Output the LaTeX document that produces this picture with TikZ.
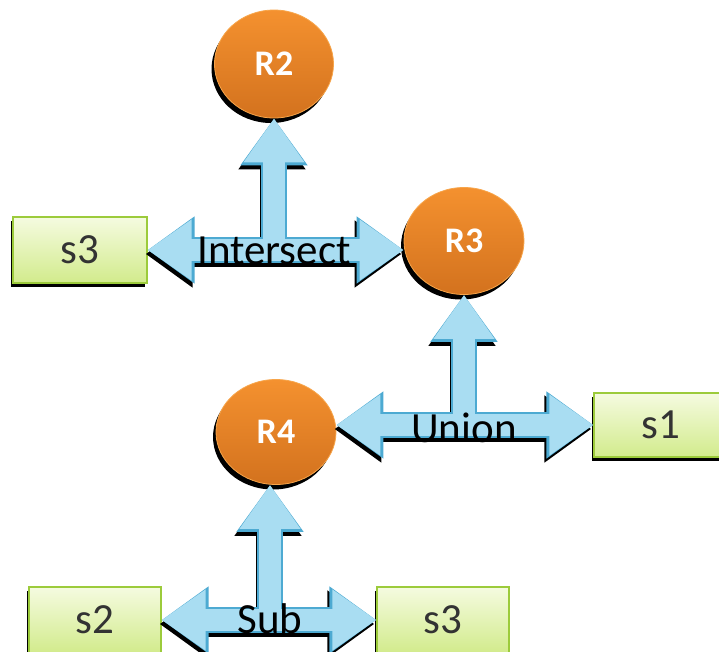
\documentclass[tikz,border=0pt]{standalone}
\usepackage{fontspec}
\setmainfont{Carlito}
\usetikzlibrary{arrows.meta,shapes.geometric,shadows,calc}

\definecolor{orangetop}{HTML}{F4912F}
\definecolor{orangebot}{HTML}{D3721E}
\definecolor{orangerim}{HTML}{F7A54A}
\definecolor{greentop}{HTML}{F5FBE0}
\definecolor{greenbot}{HTML}{D2EB8C}
\definecolor{greenrim}{HTML}{9CCB3B}
\definecolor{linkfill}{HTML}{A9DDF2}
\definecolor{linkedge}{HTML}{4DAAD2}

\tikzset{
  relnode/.style={ellipse, minimum width=120pt, minimum height=107pt, inner sep=0pt,
    top color=orangetop, bottom color=orangebot, draw=orangerim, line width=0.8pt,
    text=white, font=\fontsize{36}{36}\selectfont\bfseries,
    drop shadow={shadow xshift=-3pt, shadow yshift=-5pt, opacity=1, fill=black}},
  setnode/.style={rectangle, minimum width=134pt, minimum height=66pt, inner sep=0pt,
    top color=greentop, bottom color=greenbot, draw=greenrim, line width=1.2pt,
    text=black!80, font=\fontsize{43}{43}\selectfont,
    drop shadow={shadow xshift=-2pt, shadow yshift=-4pt, opacity=1, fill=black}},
  oplabel/.style={font=\fontsize{43}{43}\selectfont, text=black, inner sep=0pt, anchor=base},
  linkshadow/.style={draw=black, line width=25pt, transform canvas={xshift=-2pt, yshift=-4pt}},
  linkedge/.style={draw=linkedge, line width=26pt},
  linkbody/.style={draw=linkfill, line width=22pt},
}

% one layer of all the operator arrows: #1 style, #2 tip length, #3 tip width
\newcommand\linklayer[3]{%
  \draw[#1, {Triangle[length=#2,width=#3]}-{Triangle[length=#2,width=#3]}]
    (s3a.east) -- (s3a.east -| R3.west);
  \draw[#1, -{Triangle[length=#2,width=#3]}] (jI) -- (R2.south);
  \draw[#1, {Triangle[length=#2,width=#3]}-{Triangle[length=#2,width=#3]}]
    (s1.west -| R4.east) -- (s1.west);
  \draw[#1, -{Triangle[length=#2,width=#3]}] (jU) -- (R3.south);
  \draw[#1, {Triangle[length=#2,width=#3]}-{Triangle[length=#2,width=#3]}]
    (s2.east) -- (s3b.west);
  \draw[#1, -{Triangle[length=#2,width=#3]}] (jS) -- (jS |- R4.south);
}

\begin{document}
\begin{tikzpicture}[x=1pt, y=-1pt]
  \clip (0,0) rectangle (719,651);
  \fill[white] (0,0) rectangle (719,651);

  % relations
  \node[relnode, minimum width=119pt, minimum height=108pt] (R2) at (274,64) {R2};
  \node[relnode] (R3) at (464,241) {R3};
  \node[relnode, minimum height=105pt] (R4) at (276,432) {R4};

  % sets
  \node[setnode] (s3a) at (80,250) {s3};
  \node[setnode, minimum height=64pt] (s1) at (661,425) {s1};
  \node[setnode, minimum width=132pt] (s2) at (95,620) {s2};
  \node[setnode, minimum width=132pt] (s3b) at (443,620) {s3};

  % junctions where the result arrow leaves the operator bar
  \coordinate (jI) at (R2.south |- s3a.east);
  \coordinate (jU) at (R3.south |- s1.west);
  \coordinate (jS) at ($(R4.south |- s2.east)+(-6,0)$);

  % arrows: shadow, outline, body
  \linklayer{linkshadow}{47pt}{64pt}
  \linklayer{linkedge}{47pt}{64pt}
  \linklayer{linkbody}{44pt}{58pt}

  % operator names
  \node[oplabel, yshift=-14pt] (lI) at (jI) {Intersect};
  \node[oplabel, yshift=-17pt] (lU) at (jU) {Union};
  \node[oplabel, yshift=-13pt] (lS) at (jS) {Sub};
\end{tikzpicture}
\end{document}
